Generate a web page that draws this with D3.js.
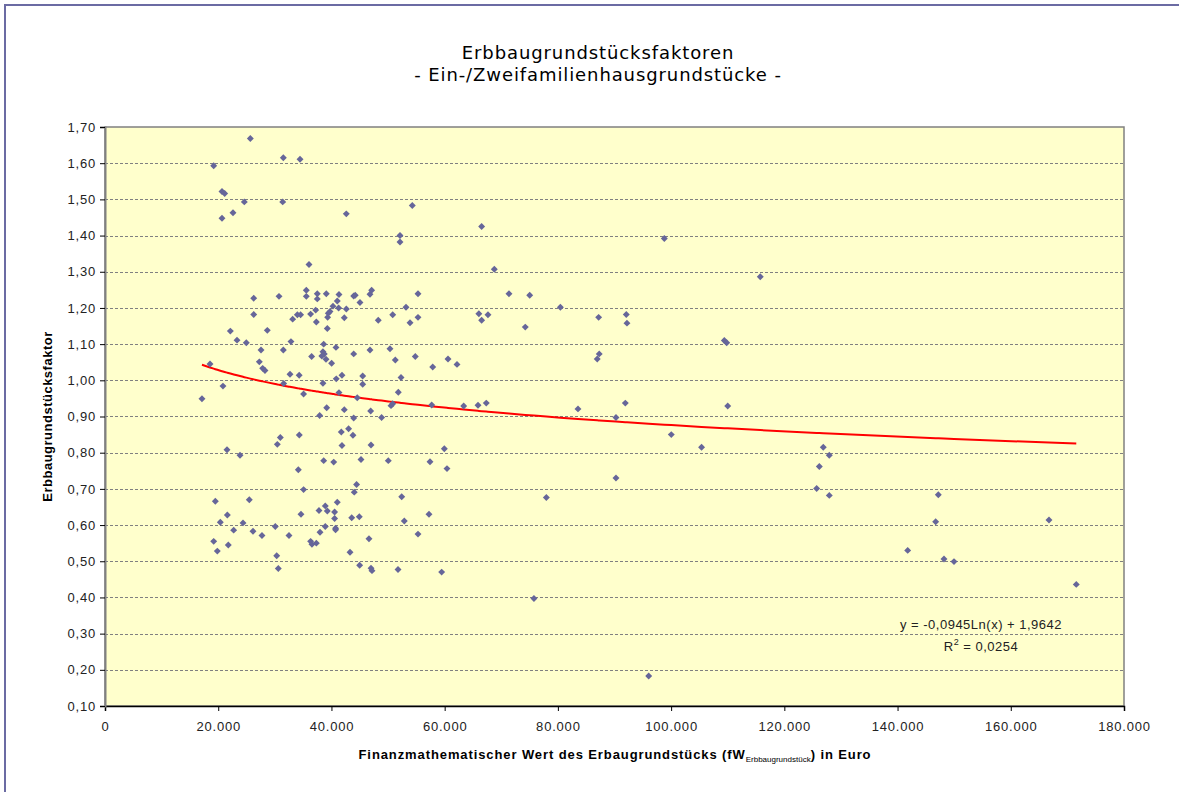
<!DOCTYPE html>
<html>
<head>
<meta charset="utf-8">
<script src="https://cdn.jsdelivr.net/npm/d3@7"></script>
<style>
  body { margin: 0; background: #fff; }
  svg { display: block; }
</style>
</head>
<body>
<script>
const width = 1179;
const height = 792;
const margin = {top: 127, right: 55, bottom: 86, left: 105};

const titleLines = ['Erbbaugrundstücksfaktoren', '- Ein-/Zweifamilienhausgrundstücke -'];
const yLabel = 'Erbbaugrundstücksfaktor';

const xTicks = [0, 20000, 40000, 60000, 80000, 100000, 120000, 140000, 160000, 180000];
const yTicks = [0.1, 0.2, 0.3, 0.4, 0.5, 0.6, 0.7, 0.8, 0.9, 1.0, 1.1, 1.2, 1.3, 1.4, 1.5, 1.6, 1.7];

// Trendlinie laut Beschriftung: y = a*ln(x) + b
const trendA = -0.0945;
const trendB = 1.9642;
const trendText = ['y = -0,0945Ln(x) + 1,9642', '0,0254'];

// [Wert in Euro, Faktor]
const punkte = [
  [17130,0.949],[18550,1.045],[19200,1.593],[19490,0.666],[19200,0.555],[19840,0.528],
  [20370,0.608],[20667,1.522],[21140,1.516],[20667,1.448],[20840,0.984],[21550,0.808],
  [21610,0.628],[21780,0.545],[22140,1.136],[22610,1.463],[22730,0.586],[23320,1.111],
  [23850,0.793],[24380,0.606],[24610,1.493],[24960,1.104],[25490,0.670],[25670,1.668],
  [26140,0.583],[26270,1.227],[26270,1.182],[27260,1.051],[27560,1.084],[27730,0.571],
  [27850,1.033],[28260,1.027],[28670,1.138],
  [30080,0.596],[30330,0.515],[30440,0.823],[30610,0.480],[30740,1.232],[30970,0.842],
  [31390,1.493],[31500,1.615],[31500,1.084],[31560,0.991],[32500,0.571],[32680,1.017],
  [32850,1.107],[33150,1.169],[33980,1.181],[34150,0.753],[34300,1.014],[34320,0.849],
  [34450,1.611],[34550,1.181],[34620,0.630],[35080,0.962],[35080,0.698],[35560,1.249],
  [35560,1.232],[36320,1.183],[36320,0.555],[36500,1.066],[36560,0.547],[37220,1.194],
  [37330,1.161],[37330,0.550],[37500,1.239],[37500,1.225],[37800,0.640],[37920,0.903],
  [37980,0.580],[36035,1.320],[38500,1.079],[38630,1.100],[38630,0.778],[38740,1.073],
  [38300,1.067],[38910,0.653],[38910,0.596],[39040,1.058],[39090,1.239],[39160,0.924],
  [39270,1.143],[39270,0.639],[39330,1.174],[39440,1.185],[39740,1.190],[38500,0.992],
  [40030,1.047],[40270,1.205],[40400,0.774],[40560,0.636],[40560,0.618],[40730,0.591],
  [40730,0.587],[40800,1.091],[40850,1.004],[41030,1.219],[41030,0.663],[41270,1.200],
  [41330,1.237],[41330,0.966],[41740,0.857],[41860,1.014],[41860,0.820],[42270,1.173],
  [42270,0.919],[42625,1.460],[42630,1.197],[43030,0.866],[43280,0.525],[43580,0.620],
  [43800,0.848],[43930,1.233],[43930,1.073],[43930,0.896],[44200,1.235],[44030,0.691],
  [44440,0.712],[44560,0.952],[44920,0.623],[44980,0.489],[45040,1.215],[45220,0.781],
  [45520,1.012],[45520,0.989],[46630,0.562],[46810,1.238],[46810,1.084],[46930,0.915],
  [46990,0.821],[46990,0.481],[47100,1.249],[47160,0.474],[48270,1.166],[48860,0.897],
  [50040,0.778],[50340,1.087],[50520,0.930],[50820,1.181],[50820,0.935],[51280,1.056],
  [51760,0.477],[51810,0.967],[52110,1.400],[52110,1.382],[52290,1.008],[52410,0.678],
  [52870,0.611],[53170,1.202],[53880,1.159],[54280,1.483],[54810,1.066],[55290,1.239],
  [55290,1.174],[55290,0.575],[57230,0.630],[57410,0.775],[57710,0.932],[57890,1.037],
  [59470,0.470],[59940,0.811],[60410,0.756],[60590,1.059],[62180,1.044],[63360,0.929],
  [65890,0.931],[66040,1.184],[66530,1.166],[66530,1.425],[67350,0.937],[67650,1.181],
  [68770,1.307],[71360,1.239],[74240,1.147],[75020,1.235],[75770,0.397],[77960,0.676],
  [80440,1.202],[83550,0.921],[86950,1.059],[87200,1.174],[87300,1.073],[90260,0.897],
  [90260,0.730],[91910,0.937],[92080,1.182],[92200,1.158],[96040,0.183],[98800,1.392],
  [100030,0.850],[105380,0.815],[109400,1.110],[109820,1.104],[110000,0.929],[115750,1.286],
  [125710,0.701],[126180,0.762],[126880,0.815],[127940,0.793],[127940,0.682],[141790,0.530],
  [146730,0.609],[147200,0.684],[148200,0.506],[149970,0.499],[166750,0.614],[171570,0.436]
];

const de = d3.formatLocale({decimal: ',', thousands: '.', grouping: [3], currency: ['', ' €']});
const fmtX = de.format(',.0f');
const fmtY = de.format('.2f');

const sans = 'Liberation Sans, Arial, sans-serif';

const x = d3.scaleLinear()
  .domain([0, 180000])
  .range([margin.left, width - margin.right]);

const y = d3.scaleLinear()
  .domain([0.1, 1.7])
  .range([height - margin.bottom, margin.top]);

const svg = d3.select('body').append('svg')
  .attr('width', width)
  .attr('height', height);

// Rahmen
svg.append('rect')
  .attr('x', 5).attr('y', 5)
  .attr('width', width + 20).attr('height', height + 20)
  .attr('fill', '#fff')
  .attr('stroke', '#6b6ba3')
  .attr('stroke-width', 2);

// Titel
svg.append('g')
  .selectAll('text')
  .data(titleLines)
  .join('text')
  .attr('x', 598)
  .attr('y', (d, i) => 59 + i * 22)
  .attr('text-anchor', 'middle')
  .attr('font-family', 'DejaVu Sans, Verdana, sans-serif')
  .attr('font-size', '18px')
  .attr('letter-spacing', '0.9px')
  .attr('fill', '#000')
  .text(d => d);

// Plotfläche
svg.append('rect')
  .attr('x', x(0)).attr('y', y(1.7))
  .attr('width', x(180000) - x(0))
  .attr('height', y(0.1) - y(1.7))
  .attr('fill', '#ffffcc')
  .attr('stroke', '#808080')
  .attr('stroke-width', 1.5);

// Gitterlinien
svg.append('g')
  .selectAll('line')
  .data(yTicks.slice(1, -1))
  .join('line')
  .attr('x1', x(0)).attr('x2', x(180000))
  .attr('y1', d => Math.round(y(d)) + 0.5)
  .attr('y2', d => Math.round(y(d)) + 0.5)
  .attr('stroke', '#808080')
  .attr('stroke-dasharray', '3,2');

const xAxis = g => g
  .attr('transform', `translate(0,${y(0.1)})`)
  .call(d3.axisBottom(x).tickValues(xTicks).tickSize(5).tickPadding(11).tickFormat(fmtX))
  .call(g => g.select('.domain').attr('stroke', '#000').attr('stroke-width', 1.5))
  .call(g => g.selectAll('.tick line').attr('stroke', '#000'))
  .call(g => g.selectAll('.tick text')
    .attr('font-family', sans)
    .attr('font-size', '13px')
    .attr('letter-spacing', '0.8px')
    .attr('fill', '#222'));

const yAxis = g => g
  .attr('transform', `translate(${x(0)},0)`)
  .call(d3.axisLeft(y).tickValues(yTicks).tickSize(5).tickPadding(4).tickFormat(fmtY))
  .call(g => g.select('.domain').attr('stroke', '#808080').attr('stroke-width', 2))
  .call(g => g.selectAll('.tick line').attr('stroke', '#000'))
  .call(g => g.selectAll('.tick text')
    .attr('font-family', sans)
    .attr('font-size', '13px')
    .attr('letter-spacing', '0.8px')
    .attr('fill', '#222'));

svg.append('g').call(xAxis);
svg.append('g').call(yAxis);

// Trendlinie, an den x-Werten der Punkte ausgewertet
const trendX = punkte.map(d => d[0]).sort((a, b) => a - b);
const line = d3.line()
  .x(d => x(d))
  .y(d => y(trendA * Math.log(d) + trendB));

svg.append('path')
  .datum(trendX)
  .attr('fill', 'none')
  .attr('stroke', '#ff0000')
  .attr('stroke-width', 2)
  .attr('d', line);

// Punkte
svg.append('g')
  .selectAll('path')
  .data(punkte)
  .join('path')
  .attr('transform', d => `translate(${x(d[0])},${y(d[1])}) rotate(45)`)
  .attr('d', d3.symbol(d3.symbolSquare, 24))
  .attr('fill', '#666699');

// Gleichung
const eq = svg.append('g')
  .attr('font-family', sans)
  .attr('font-size', '13px')
  .attr('letter-spacing', '0.5px')
  .attr('fill', '#222')
  .attr('text-anchor', 'middle');
eq.append('text')
  .attr('x', 981).attr('y', 629)
  .text(trendText[0]);
const r2 = eq.append('text')
  .attr('x', 981).attr('y', 651);
r2.append('tspan').text('R');
r2.append('tspan').attr('dy', -6).attr('font-size', '9px').text('2');
r2.append('tspan').attr('dy', 6).text(' = ' + trendText[1]);

// Achsentitel
const xt = svg.append('text')
  .attr('x', 615).attr('y', 759)
  .attr('text-anchor', 'middle')
  .attr('font-family', sans)
  .attr('font-size', '13px')
  .attr('font-weight', 'bold')
  .attr('letter-spacing', '0.9px')
  .attr('fill', '#000');
xt.append('tspan').text('Finanzmathematischer Wert des Erbaugrundstücks (fW');
xt.append('tspan').attr('dy', 3).attr('font-size', '8px').attr('font-weight', 'normal').attr('letter-spacing', '0px').text('Erbbaugrundstück');
xt.append('tspan').attr('dy', -3).text(') in Euro');

svg.append('text')
  .attr('transform', `translate(52,${(y(0.1) + y(1.7)) / 2}) rotate(-90)`)
  .attr('text-anchor', 'middle')
  .attr('font-family', sans)
  .attr('font-size', '13px')
  .attr('font-weight', 'bold')
  .attr('letter-spacing', '0.5px')
  .attr('fill', '#000')
  .text(yLabel);
</script>
</body>
</html>
